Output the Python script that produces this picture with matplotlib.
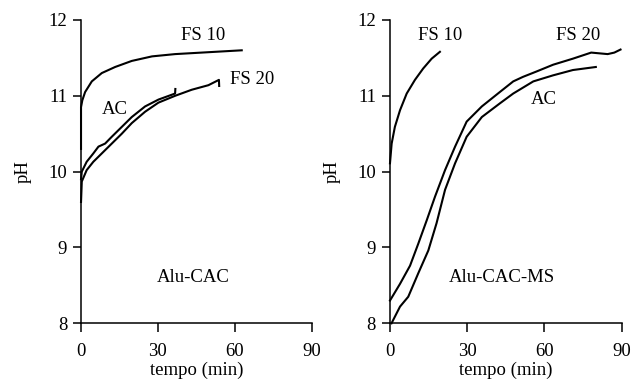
import matplotlib
matplotlib.use('Agg')
import matplotlib.pyplot as plt

# ── Alu-CAC panel ──
fs10_a_t = [0, 0, 0.5, 1.6, 4.2, 8.1, 13.3, 19.8, 27.7, 36.7, 47.1, 62.7]
fs10_a_ph = [10.3, 10.85, 10.94, 11.05, 11.19, 11.30, 11.38, 11.46, 11.52, 11.55, 11.57, 11.6]
ac_a_t = [0, 0.3, 2.2, 4.8, 6.8, 9.4, 12.0, 15.9, 19.8, 25.0, 30.2, 36.7, 36.8]
ac_a_ph = [9.9, 10.0, 10.13, 10.24, 10.33, 10.37, 10.46, 10.59, 10.72, 10.86, 10.95, 11.03, 11.09]
fs20_a_t = [0, 0.3, 2.2, 4.8, 8.1, 12.0, 15.9, 19.8, 25.0, 30.2, 36.7, 43.2, 49.7, 53.8, 53.9]
fs20_a_ph = [9.6, 9.87, 10.02, 10.13, 10.24, 10.37, 10.50, 10.64, 10.79, 10.91, 11.0, 11.08,
             11.14, 11.21, 11.13]

# ── Alu-CAC-MS panel ──
fs10_b_t = [0, 0.65, 1.9, 3.9, 6.5, 9.7, 12.9, 16.2, 19.4]
fs10_b_ph = [10.11, 10.37, 10.59, 10.81, 11.03, 11.21, 11.36, 11.49, 11.58]
fs20_b_t = [0, 3.9, 7.8, 11.0, 14.3, 17.5, 21.4, 25.3, 29.8, 35.7, 42.7, 47.9, 51.7,
            56.9, 63.4, 71.1, 78.2, 81.4, 84.6, 87.2, 89.6]
fs20_b_ph = [8.3, 8.52, 8.76, 9.05, 9.36, 9.67, 10.02, 10.33, 10.66, 10.86, 11.05, 11.19,
             11.25, 11.32, 11.41, 11.49, 11.57, 11.56, 11.55, 11.57, 11.61]
ac_b_t = [0.6, 3.9, 7.1, 11.0, 14.9, 18.1, 21.4, 25.3, 29.8, 35.7, 42.7, 47.9, 55.7,
          63.4, 71.1, 80.0]
ac_b_ph = [8.0, 8.22, 8.35, 8.66, 8.96, 9.32, 9.76, 10.11, 10.46, 10.72, 10.9, 11.03,
           11.19, 11.27, 11.34, 11.38]

xticks = [0, 30, 60, 90]
yticks = [8, 9, 10, 11, 12]

plt.rcParams['font.family'] = ['Liberation Serif', 'DejaVu Serif']
plt.rcParams['font.size'] = 13.5

fig = plt.figure(figsize=(6.39, 3.82), dpi=100)
ax1 = fig.add_axes([0.1268, 0.1537, 0.361, 0.794])
ax2 = fig.add_axes([0.6103, 0.1537, 0.3624, 0.794])

panels = [
    (ax1, [(fs10_a_t, fs10_a_ph), (ac_a_t, ac_a_ph), (fs20_a_t, fs20_a_ph)],
     [("FS 10", 47.7, 11.79), ("FS 20", 66.7, 11.21), ("AC", 13.3, 10.82), ("Alu-CAC", 43.7, 8.61)]),
    (ax2, [(fs10_b_t, fs10_b_ph), (fs20_b_t, fs20_b_ph), (ac_b_t, ac_b_ph)],
     [("FS 10", 19.4, 11.8), ("FS 20", 73.2, 11.79), ("AC", 59.6, 10.95), ("Alu-CAC-MS", 43.4, 8.61)]),
]

for ax, curves, labels in panels:
    for t, ph in curves:
        ax.plot(t, ph, color='black', lw=1.5, clip_on=False)
    for txt, x, y in labels:
        ax.text(x, y, txt, ha='center', va='center')
    ax.set_xlim(0, 90)
    ax.set_ylim(8, 12)
    ax.set_xticks(xticks)
    ax.set_yticks(yticks)
    ax.spines['top'].set_visible(False)
    ax.spines['right'].set_visible(False)
    for s in ax.spines.values():
        s.set_linewidth(1.1)
    ax.tick_params(axis='y', direction='out', length=6, width=1.1, pad=4)
    ax.tick_params(axis='x', direction='out', length=6.5, width=1.1, pad=8)
    ax.set_xlabel('tempo (min)', labelpad=1)
    ax.set_ylabel('pH', labelpad=12)
    ax.patch.set_visible(False)

fig.savefig('out.png', dpi=100)
